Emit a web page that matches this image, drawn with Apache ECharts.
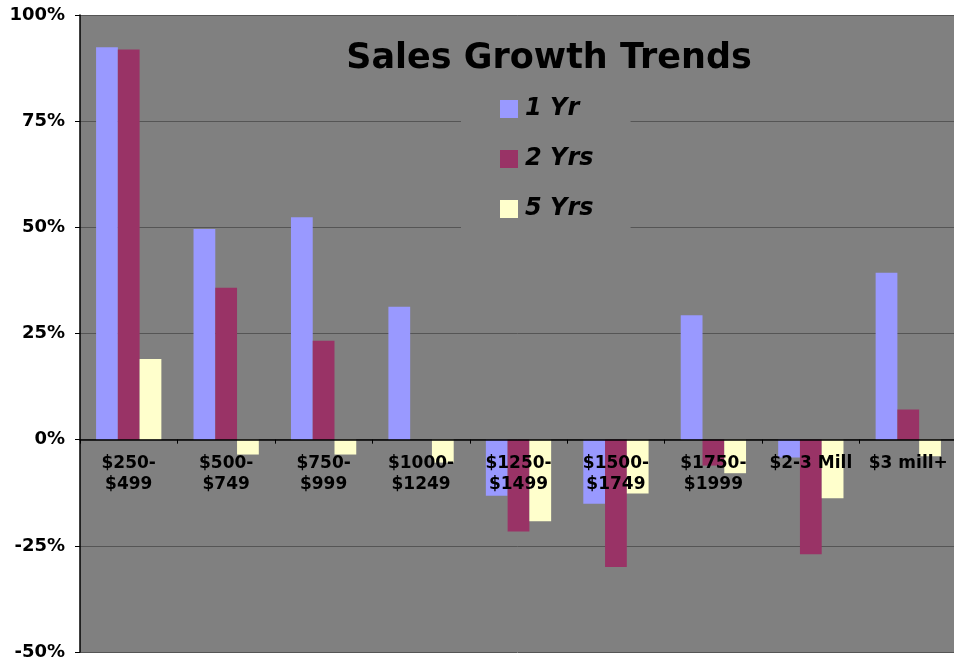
<!DOCTYPE html>
<html>
<head>
<meta charset="utf-8">
<script src="https://cdn.jsdelivr.net/npm/echarts@6/dist/echarts.min.js"></script>
<style>
html,body{margin:0;padding:0;background:#fff;}
#chart{width:954px;height:660px;}
</style>
</head>
<body>
<div id="chart"></div>
<script>
const categories = ["$250-\n$499", "$500-\n$749", "$750-\n$999", "$1000-\n$1249", "$1250-\n$1499", "$1500-\n$1749", "$1750-\n$1999", "$2-3 Mill", "$3 mill+"];
const seriesNames = ["1 Yr", "2 Yrs", "5 Yrs"];
const oneYr = [92.4, 49.6, 52.4, 31.3, -13.2, -15.1, 29.3, -4.2, 39.3];
const twoYrs = [91.9, 35.8, 23.3, 0, -21.6, -30.0, -6.1, -27.0, 7.1];
const fiveYrs = [19.0, -3.5, -3.5, -5.4, -19.2, -12.7, -7.9, -13.8, -3.9];
const yMin = -50, yMax = 100, yStep = 25;

const font = "'DejaVu Sans', Verdana, sans-serif";
const colors = ['#9999FF', '#993366', '#FFFFCC'];
const gridTop = 15, gridBottom = 8, H = 660;
const plotH = H - gridTop - gridBottom;
// distance from bottom of plot to the zero line, so the category axis sits on 0
const zeroOffset = -plotH * (0 - yMin) / (yMax - yMin);

const chart = echarts.init(document.getElementById('chart'));
const datasets = [oneYr, twoYrs, fiveYrs];
chart.setOption({
  animation: false,
  backgroundColor: '#ffffff',
  title: {
    text: 'Sales Growth Trends',
    left: 544, top: 36, textAlign: 'center',
    textStyle: {fontFamily: font, fontWeight: 'bold', fontSize: 35, color: '#000'}
  },
  legend: {
    orient: 'vertical',
    left: 461, top: 85,
    padding: [12, 37, 12, 39],
    backgroundColor: '#808080',
    itemWidth: 18, itemHeight: 18, itemGap: 26,
    icon: 'rect',
    data: seriesNames,
    textStyle: {fontFamily: font, fontWeight: 'bold', fontStyle: 'italic', fontSize: 24, lineHeight: 24, color: '#000', padding: [0, 0, 0, 2]}
  },
  grid: {
    left: 80, top: gridTop, width: 877, bottom: gridBottom,
    outerBoundsMode: 'none', containLabel: false,
    show: true, backgroundColor: '#808080', borderWidth: 0
  },
  xAxis: {
    type: 'category',
    data: categories,
    z: 10,
    position: 'bottom',
    offset: zeroOffset,
    axisLine: {onZero: false, lineStyle: {color: '#000', width: 1.5}},
    axisTick: {show: true, length: 4, lineStyle: {color: '#000'}},
    axisLabel: {
      interval: 0, margin: 13,
      fontFamily: font, fontWeight: 'bold', fontSize: 17, lineHeight: 21, color: '#000'
    }
  },
  yAxis: {
    type: 'value',
    min: yMin, max: yMax, interval: yStep,
    axisLine: {show: true, lineStyle: {color: '#000', width: 1.5}},
    axisTick: {show: true, length: 5, lineStyle: {color: '#000'}},
    splitLine: {show: true, lineStyle: {color: '#555', width: 1}},
    axisLabel: {
      formatter: '{value}%', margin: 15,
      fontFamily: font, fontWeight: 'bold', fontSize: 18, color: '#000'
    }
  },
  series: seriesNames.map((n, i) => ({
    name: n,
    type: 'bar',
    data: datasets[i],
    barGap: '0%',
    barCategoryGap: '33%',
    itemStyle: {color: colors[i]}
  }))
});
</script>
</body>
</html>
